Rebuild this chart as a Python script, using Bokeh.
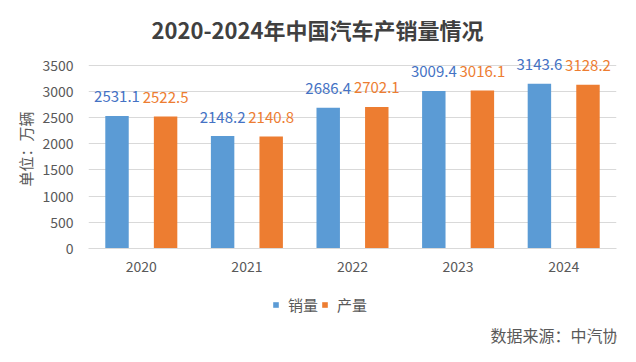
from bokeh.plotting import figure
from bokeh.layouts import column
from bokeh.models import (FactorRange, ColumnDataSource, Legend, LegendItem, Label,
                          FixedTicker, Range1d)
from bokeh.transform import dodge
from bokeh.core.properties import value
from bokeh.embed import file_html
from bokeh.resources import INLINE

years = ["2020", "2021", "2022", "2023", "2024"]
sales = [2531.1, 2148.2, 2686.4, 3009.4, 3143.6]        # 销量
production = [2522.5, 2140.8, 2702.1, 3016.1, 3128.2]   # 产量
y_ticks = [0, 500, 1000, 1500, 2000, 2500, 3000, 3500]

FONT = "Noto Sans CJK SC"
GRAY = "#595959"
BLUE = "#5B9BD5"
ORANGE = "#ED7D31"

src = ColumnDataSource(dict(
    year=years,
    sales=sales,
    production=production,
    sales_lbl=[f"{v:.1f}" for v in sales],
    prod_lbl=[f"{v:.1f}" for v in production],
))

xr = FactorRange(*years)


def strip(height, y_range):
    f = figure(x_range=xr, y_range=y_range, width=620, height=height,
               output_backend="svg", toolbar_location=None, min_border=0,
               x_axis_location=None, y_axis_location=None)
    f.grid.visible = False
    f.outline_line_color = None
    f.background_fill_color = "white"
    f.border_fill_color = "white"
    return f


# ---------------- header: title ----------------
p0 = strip(44, Range1d(0, 1))
p0.add_layout(Label(x=63, y=16, x_units="screen", y_units="screen",
                    text="2020-2024年中国汽车产销量情况", text_align="left",
                    text_baseline="middle", text_font=FONT, text_font_size="22px",
                    text_font_style="bold", text_color="#404040"))

# ---------------- main chart ----------------
p = figure(x_range=xr, y_range=Range1d(0, 3800),
           width=620, height=236, output_backend="svg", toolbar_location=None,
           min_border_left=88, min_border_right=4, min_border_top=5,
           min_border_bottom=32)

p.outline_line_color = None
p.background_fill_color = "white"
p.border_fill_color = "white"

vb1 = p.vbar(x=dodge("year", -0.23, range=xr), top="sales", width=0.222,
             source=src, fill_color=BLUE, line_color=None)
vb2 = p.vbar(x=dodge("year", 0.23, range=xr), top="production", width=0.222,
             source=src, fill_color=ORANGE, line_color=None)

p.text(x=dodge("year", -0.23, range=xr), y="sales", text="sales_lbl",
       source=src, text_align="center", text_baseline="alphabetic", y_offset=-19,
       text_font=value(FONT), text_font_size="15px", text_color="#4472C4")
p.text(x=dodge("year", 0.23, range=xr), y="production", text="prod_lbl",
       source=src, text_align="center", text_baseline="alphabetic", y_offset=-19,
       text_font=value(FONT), text_font_size="15px", text_color=ORANGE)

# axes
p.yaxis.ticker = FixedTicker(ticks=y_ticks)
p.yaxis.axis_label = "单位：万辆"
p.yaxis.axis_label_text_font = FONT
p.yaxis.axis_label_text_font_size = "15px"
p.yaxis.axis_label_text_font_style = "normal"
p.yaxis.axis_label_text_color = GRAY
p.yaxis.axis_label_standoff = 3
p.yaxis.axis_line_color = None
p.yaxis.major_tick_line_color = None
p.yaxis.minor_tick_line_color = None
p.yaxis.major_label_standoff = 9
p.yaxis.major_label_text_font = FONT
p.yaxis.major_label_text_font_size = "14px"
p.yaxis.major_label_text_color = GRAY

p.xaxis.axis_line_color = "#D9D9D9"
p.xaxis.major_tick_line_color = None
p.xaxis.minor_tick_line_color = None
p.xaxis.major_label_standoff = 6
p.xaxis.major_label_text_font = FONT
p.xaxis.major_label_text_font_size = "14px"
p.xaxis.major_label_text_color = GRAY

p.xgrid.grid_line_color = None
p.ygrid.grid_line_color = "#D9D9D9"

# ---------------- footer: legend + source ----------------
p2 = strip(66, Range1d(-2000, -1000))

# legend swatches (hidden renderers, only the legend shows them)
lg1 = p2.vbar(x="year", top="sales", width=0.222, source=src,
              fill_color=BLUE, line_color=None, visible=False)
lg2 = p2.vbar(x="year", top="production", width=0.222, source=src,
              fill_color=ORANGE, line_color=None, visible=False)

legend = Legend(items=[LegendItem(label="销量", renderers=[lg1]),
                       LegendItem(label="产量", renderers=[lg2])],
                orientation="horizontal", location=(184, 31),
                glyph_width=7, glyph_height=7, label_standoff=9, spacing=3,
                label_text_font=FONT, label_text_font_size="15px",
                label_text_color=GRAY, border_line_color=None,
                background_fill_alpha=0, padding=0, margin=0,
                click_policy="none")
p2.add_layout(legend)

p2.add_layout(Label(x=530, y=12, x_units="screen", y_units="screen",
                    text="数据来源：中汽协", text_align="right",
                    text_baseline="middle", text_font=FONT,
                    text_font_size="16px", text_color=GRAY))

layout = column(p0, p, p2, spacing=0)
open("out.html", "w").write(file_html(layout, INLINE))
